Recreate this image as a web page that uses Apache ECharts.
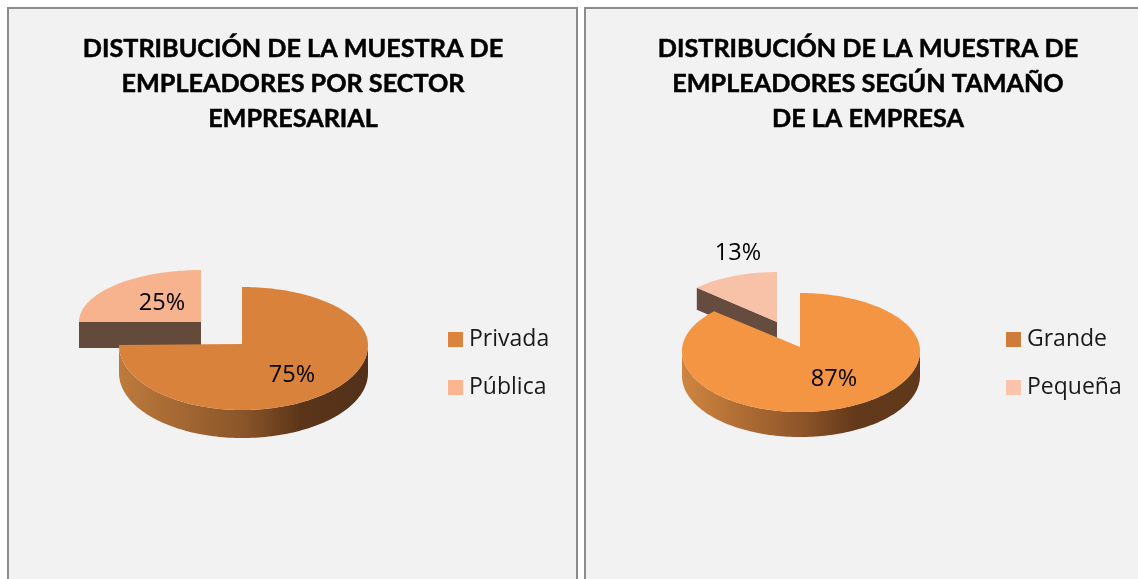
<!DOCTYPE html>
<html>
<head>
<meta charset="utf-8">
<style>html,body{margin:0;padding:0;background:#fff}#c{width:1138px;height:579px}</style>
<script src="https://cdn.jsdelivr.net/npm/echarts@6/dist/echarts.min.js"></script>
</head>
<body>
<div id="c"></div>
<script>
const titleSector = 'DISTRIBUCIÓN DE LA MUESTRA DE\nEMPLEADORES POR SECTOR\nEMPRESARIAL';
const titleSize = 'DISTRIBUCIÓN DE LA MUESTRA DE\nEMPLEADORES SEGÚN TAMAÑO\nDE LA EMPRESA';
const sectorCategories = ['Privada', 'Pública'];
const sectorValues = [75, 25];
const sizeCategories = ['Grande', 'Pequeña'];
const sizeValues = [87, 13];

const FONT = '"Open Sans"';
const TITLE_FONT = 'Lato';

// geometry of each slice: apex, rim centre line, radii, wall height, colours
const sectorGeom = [
  {ax:242, ay:344, cy:345, rxR:126, rxL:123, rt:58, rb:65, h:28, top:'#d9823b', lx:292, ly:375,
   wall:['#bd7a3c','#8a5529','#5c3519','#52301a']},
  {ax:201, ay:322, cy:322, rxR:122, rxL:122, rt:52, rb:52, h:26, top:'#f6b38e', side:'#634a3b', lx:162, ly:303}
];
const sizeGeom = [
  {ax:800, ay:347, cy:351, rxR:120, rxL:118, rt:58, rb:61, h:25, top:'#f39543', lx:834, ly:379,
   wall:['#cf8540','#8f5529','#63391a','#5f381b']},
  {ax:777, ay:322, cy:322, rxR:110, rxL:110, rt:50, rb:50, h:22, top:'#f7c2a8', side:'#654c3f', lx:738, ly:253}
];

function rim(g, deg, dy) {
  const t = deg * Math.PI / 180, s = Math.sin(t), c = Math.cos(t);
  return [g.ax + s * (s >= 0 ? g.rxR : g.rxL),
          g.cy - c * (c >= 0 ? g.rt : g.rb) + (dy || 0)];
}
function arc(g, a, b, dy) {
  const n = Math.max(2, Math.ceil(Math.abs(b - a) / 1.5)), pts = [];
  for (let i = 0; i <= n; i++) pts.push(rim(g, a + (b - a) * i / n, dy));
  return pts;
}
function makeSeries(name, value, before, total, g, z) {
  return {
    type: 'custom', name: name, coordinateSystem: 'none', z: z,
    silent: true, animation: false,
    itemStyle: {color: g.top},
    data: [[value, before]],
    renderItem: function (params, api) {
      const a0 = api.value(1) / total * 360;
      const a1 = a0 + api.value(0) / total * 360;
      const children = [];
      if (g.wall) {
        const lo = Math.max(a0, 90), hi = Math.min(a1, 270);
        children.push({
          type: 'polygon',
          shape: {points: arc(g, lo, hi, 0).concat(arc(g, hi, lo, g.h))},
          style: {fill: new echarts.graphic.LinearGradient(0, 0, 1, 0, [
            {offset: 0, color: g.wall[0]},
            {offset: 0.5, color: g.wall[1]},
            {offset: 0.73, color: g.wall[2]},
            {offset: 1, color: g.wall[3]}
          ])}
        });
      }
      if (g.side) {
        const tip = rim(g, a0, 0);
        children.push({
          type: 'polygon',
          shape: {points: [tip, [g.ax, g.ay], [g.ax, g.ay + g.h], [tip[0], tip[1] + g.h]]},
          style: {fill: g.side}
        });
      }
      children.push({
        type: 'polygon',
        shape: {points: [[g.ax, g.ay]].concat(arc(g, a0, a1, 0))},
        style: {fill: g.top}
      });
      children.push({
        type: 'text',
        style: {x: g.lx, y: g.ly, text: api.value(0) + '%', fill: '#000',
                font: '23.5px ' + FONT, align: 'center', verticalAlign: 'middle'}
      });
      return {type: 'group', children: children};
    }
  };
}
function pieSeries(cats, vals, geom) {
  const total = vals.reduce((a, b) => a + b, 0);
  let run = 0;
  return cats.map((c, i) => {
    const s = makeSeries(c, vals[i], run, total, geom[i], i === 0 ? 4 : 3);
    run += vals[i];
    return s;
  });
}
function legendFor(cats, colors, left) {
  return {
    left: left, top: 328, orient: 'vertical', itemWidth: 15, itemHeight: 15, itemGap: 25,
    selectedMode: false, padding: 0,
    data: cats.map((c, i) => ({name: c, icon: 'rect', itemStyle: {color: colors[i]}})),
    textStyle: {fontFamily: FONT, fontSize: 23, color: '#1a1a1a', padding: [0, 0, 0, 1]}
  };
}
function titleFor(text, cx) {
  return {
    text: text, left: cx, top: 31, textAlign: 'center', padding: 0,
    textStyle: {fontFamily: TITLE_FONT, fontWeight: 'bold', fontSize: 25.2, lineHeight: 35, color: '#000',
                textBorderColor: '#000', textBorderWidth: 0.5}
  };
}
const panel = x => ({
  type: 'rect', z: -10, silent: true,
  shape: {x: x, y: 8, width: x < 100 ? 569 : 640, height: 640},
  style: {fill: '#f2f2f2', stroke: '#8c8c8c', lineWidth: 2}
});

const chart = echarts.init(document.getElementById('c'), null, {renderer: 'canvas'});
chart.setOption({
  backgroundColor: '#ffffff',
  animation: false,
  title: [titleFor(titleSector, 293), titleFor(titleSize, 868)],
  legend: [
    legendFor(sectorCategories, ['#dc843e', '#fcb68f'], 448),
    legendFor(sizeCategories, ['#cf7c3a', '#fbc4ab'], 1006)
  ],
  graphic: [panel(8), panel(585)],
  series: pieSeries(sectorCategories, sectorValues, sectorGeom)
    .concat(pieSeries(sizeCategories, sizeValues, sizeGeom))
});
</script>
</body>
</html>
